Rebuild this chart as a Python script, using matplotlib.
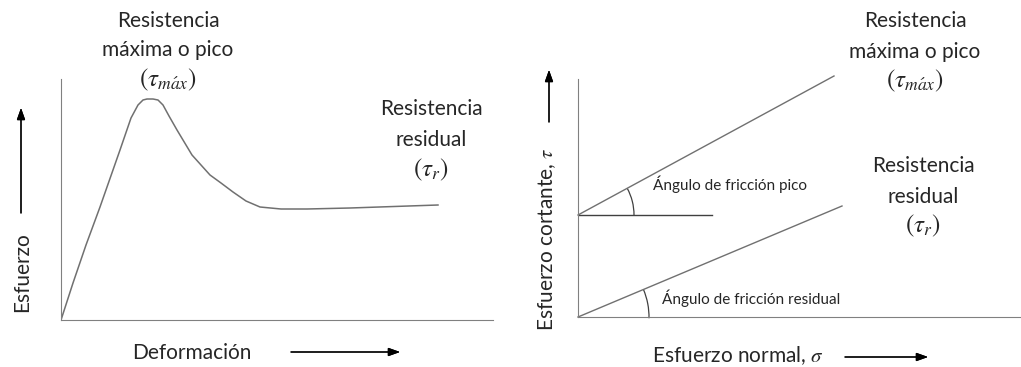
import matplotlib.pyplot as plt
from matplotlib.patches import Arc
import numpy as np

plt.rcParams['font.family'] = ['Lato', 'DejaVu Sans']
plt.rcParams['mathtext.fontset'] = 'stix'

# left panel: stress-strain curve (arbitrary units)
deformacion = [0, 12, 25, 39, 59, 70, 77, 82, 86, 92, 97, 102, 108, 116, 131, 149, 160,
               172, 185, 199, 220, 246, 289, 377]
esfuerzo = [0, 37, 75, 113, 170, 202, 215, 220, 221, 221, 220, 215, 204, 190, 165, 145, 137,
            128, 119, 113, 111, 111, 112, 115]

# right panel: failure envelopes (start, end)
sigma_pico = [0, 256]
tau_pico = [102, 241]
sigma_res = [0, 264]
tau_res = [0, 111]
horiz_len = 134

txt = '#262626'
line_c = '#707070'
axis_c = '#808080'
fs = 15
fm = 18

fig = plt.figure(figsize=(10.21, 3.67), dpi=100)

# ---- left
ax1 = fig.add_axes([61 / 1021, 47 / 367, 432 / 1021, 241 / 367])
ax1.plot(deformacion, esfuerzo, color=line_c, lw=1.1)
ax1.set_xlim(0, 432)
ax1.set_ylim(0, 241)
for s in ['top', 'right']:
    ax1.spines[s].set_visible(False)
for s in ['left', 'bottom']:
    ax1.spines[s].set_color(axis_c)
ax1.set_xticks([])
ax1.set_yticks([])

# ---- right
ax2 = fig.add_axes([578 / 1021, 50 / 367, 443 / 1021, 238 / 367])
ax2.plot(sigma_pico, tau_pico, color=line_c, lw=1.0, clip_on=False)
ax2.plot(sigma_res, tau_res, color=line_c, lw=1.0, clip_on=False)
ax2.plot([0, horiz_len], [tau_pico[0], tau_pico[0]], color='#404040', lw=1.0)
ang_p = np.degrees(np.arctan2(tau_pico[1] - tau_pico[0], sigma_pico[1]))
ang_r = np.degrees(np.arctan2(tau_res[1] - tau_res[0], sigma_res[1]))
ax2.add_patch(Arc((0, tau_pico[0]), 112, 112, theta1=0, theta2=ang_p, color='#404040', lw=0.9))
ax2.add_patch(Arc((0, 0), 142, 142, theta1=-1, theta2=ang_r, color='#404040', lw=0.9, clip_on=False))
ax2.set_xlim(0, 443)
ax2.set_ylim(0, 238)
for s in ['top', 'right']:
    ax2.spines[s].set_visible(False)
for s in ['left', 'bottom']:
    ax2.spines[s].set_color(axis_c)
ax2.set_xticks([])
ax2.set_yticks([])
ax2.text(75, 133, 'Ángulo de fricción pico', fontsize=11, color=txt, va='center')
ax2.text(84, 19, 'Ángulo de fricción residual', fontsize=11, color=txt, va='center')


def px(x, y):
    return x / 1021, 1 - y / 367


def ftext(x, y, s, size=fs, **kw):
    fig.text(*px(x, y), s, ha='center', va='center', color=txt, fontsize=size, **kw)


# left labels
ftext(168, 21, 'Resistencia')
ftext(168, 50, 'máxima o pico')
ftext(168, 80, r'$(\tau_{m\acute{a}x})$', size=fm)
ftext(431, 109, 'Resistencia')
ftext(431, 140, 'residual')
ftext(431, 170, r'$(\tau_r)$', size=fm)
ftext(22, 272, 'Esfuerzo', rotation=90)
ftext(192, 353, 'Deformación')

# right labels
ftext(915, 21, 'Resistencia')
ftext(915, 52, 'máxima o pico')
ftext(915, 81, r'$(\tau_{m\acute{a}x})$', size=fm)
ftext(923, 166, 'Resistencia')
ftext(923, 197, 'residual')
ftext(923, 226, r'$(\tau_r)$', size=fm)
ftext(547, 239, 'Esfuerzo cortante, $\\tau$', rotation=90)
ftext(738, 356, 'Esfuerzo normal, $\\sigma$')

# arrows
arr = dict(arrowstyle='-|>,head_length=0.7,head_width=0.25', color='black', lw=0.9,
           shrinkA=0, shrinkB=0)
fig.add_artist(plt.annotate('', xy=px(21, 108), xytext=px(21, 213),
                            xycoords='figure fraction', arrowprops=arr))
fig.add_artist(plt.annotate('', xy=px(400, 352), xytext=px(291, 352),
                            xycoords='figure fraction', arrowprops=arr))
fig.add_artist(plt.annotate('', xy=px(549, 70), xytext=px(549, 122),
                            xycoords='figure fraction', arrowprops=arr))
fig.add_artist(plt.annotate('', xy=px(928, 357), xytext=px(845, 357),
                            xycoords='figure fraction', arrowprops=arr))

fig.savefig('out.png', dpi=100)
